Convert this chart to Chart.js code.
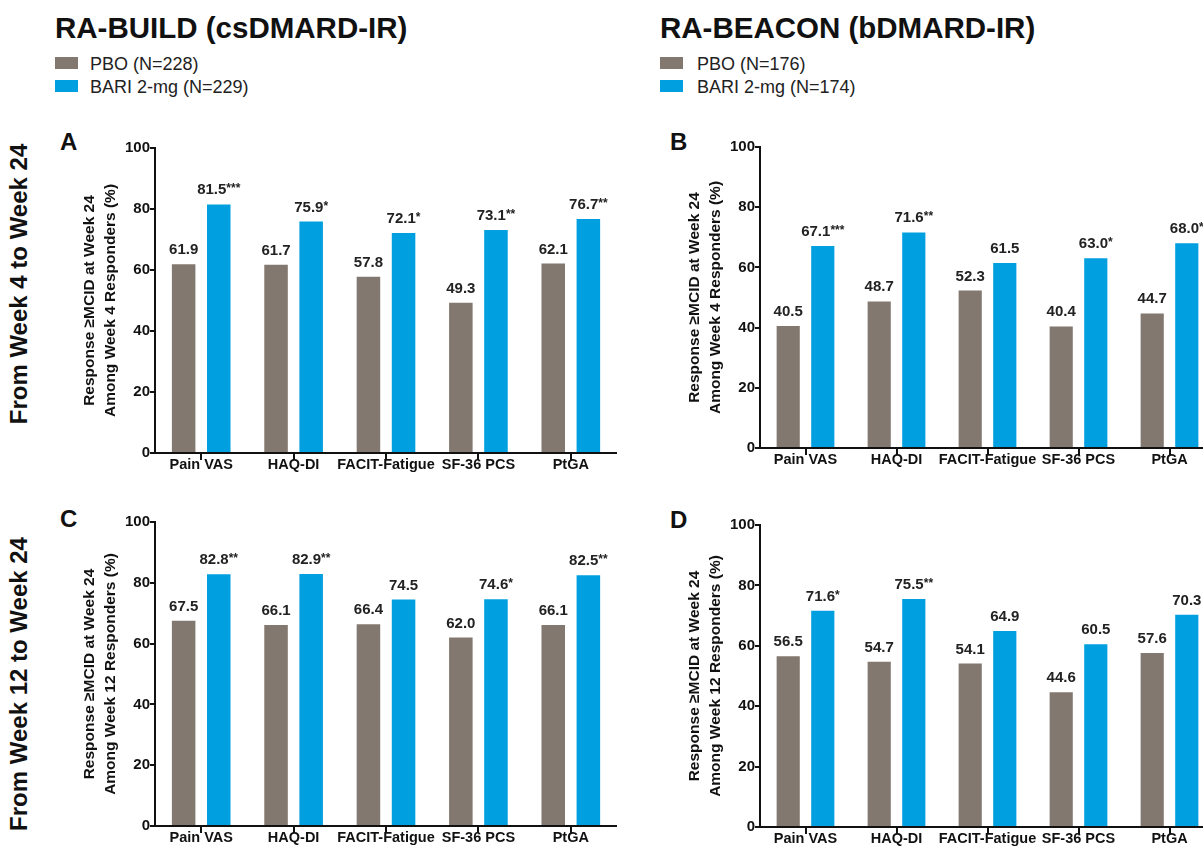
<!DOCTYPE html>
<html>
<head>
<meta charset="utf-8">
<script src="https://cdn.jsdelivr.net/npm/chart.js@4"></script>
<style>
html, body { margin:0; padding:0; width:1203px; height:849px; overflow:hidden; background:#fff; }
body { position:relative; font-family:"Liberation Sans", Arial, sans-serif; color:#111; }
.t { position:absolute; white-space:nowrap; line-height:1; }
.b { font-weight:bold; }
.sq { position:absolute; width:23px; height:12px; }
.row { position:absolute; white-space:nowrap; line-height:1; font-weight:bold; font-size:24px;
       transform:translate(-50%,-50%) rotate(-90deg); }
canvas { position:absolute; }
</style>
</head>
<body>

<div class="t b" style="left:55px;top:13px;font-size:29.5px">RA-BUILD (csDMARD-IR)</div>
<div class="sq" style="left:55px;top:57px;background:#82786f"></div>
<div class="sq" style="left:55px;top:80px;background:#009fdf"></div>
<div class="t" style="left:90px;top:55px;font-size:18px;color:#222">PBO (N=228)</div>
<div class="t" style="left:90px;top:78px;font-size:18px;color:#222">BARI 2-mg (N=229)</div>

<div class="t b" style="left:660px;top:13px;font-size:29.5px">RA-BEACON (bDMARD-IR)</div>
<div class="sq" style="left:660px;top:57px;background:#82786f"></div>
<div class="sq" style="left:660px;top:80px;background:#009fdf"></div>
<div class="t" style="left:697px;top:55px;font-size:18px;color:#222">PBO (N=176)</div>
<div class="t" style="left:697px;top:78px;font-size:18px;color:#222">BARI 2-mg (N=174)</div>

<div class="row" style="left:19px;top:284px">From Week 4 to Week 24</div>
<div class="row" style="left:19px;top:684px">From Week 12 to Week 24</div>

<div class="t b" style="left:60px;top:130px;font-size:24px">A</div>
<div class="t b" style="left:670px;top:130px;font-size:24px">B</div>
<div class="t b" style="left:60px;top:507px;font-size:24px">C</div>
<div class="t b" style="left:670px;top:508px;font-size:24px">D</div>

<canvas id="chartA" width="542" height="355" style="left:75px;top:128px"></canvas>
<canvas id="chartB" width="535" height="351" style="left:680px;top:127px"></canvas>
<canvas id="chartC" width="542" height="354" style="left:75px;top:502px"></canvas>
<canvas id="chartD" width="535" height="352" style="left:680px;top:505px"></canvas>

<script>
var categories = ['Pain VAS', 'HAQ-DI', 'FACIT-Fatigue', 'SF-36 PCS', 'PtGA'];
var seriesNames = ['PBO', 'BARI 2-mg'];
var yMin = 0, yMax = 100, yStep = 20;

// A: RA-BUILD, week 4 -> week 24
var pboA = [61.9, 61.7, 57.8, 49.3, 62.1];
var bariA = [81.5, 75.9, 72.1, 73.1, 76.7];
var starsA = ['***', '*', '*', '**', '**'];

// B: RA-BEACON, week 4 -> week 24
var pboB = [40.5, 48.7, 52.3, 40.4, 44.7];
var bariB = [67.1, 71.6, 61.5, 63.0, 68.0];
var starsB = ['***', '**', '', '*', '*'];

// C: RA-BUILD, week 12 -> week 24
var pboC = [67.5, 66.1, 66.4, 62.0, 66.1];
var bariC = [82.8, 82.9, 74.5, 74.6, 82.5];
var starsC = ['**', '**', '', '*', '**'];

// D: RA-BEACON, week 12 -> week 24
var pboD = [56.5, 54.7, 54.1, 44.6, 57.6];
var bariD = [71.6, 75.5, 64.9, 60.5, 70.3];
var starsD = ['*', '**', '', '', ''];

var FONT = '"Liberation Sans", Arial, sans-serif';
Chart.defaults.font.family = FONT;
var grey = '#82786f';
var blue = '#009fdf';
var ink = '#111';

// value labels above the bars, asterisks a bit smaller and raised
var barLabels = {
  id: 'barLabels',
  afterDatasetsDraw(chart) {
    var ctx = chart.ctx;
    chart.data.datasets.forEach(function(ds, di) {
      var meta = chart.getDatasetMeta(di);
      meta.data.forEach(function(bar, i) {
        var num = ds.data[i].toFixed(1);
        var st = ds.stars ? ds.stars[i] : '';
        ctx.save();
        ctx.font = 'bold 15px ' + FONT;
        var w1 = ctx.measureText(num).width;
        ctx.font = 'bold 12px ' + FONT;
        var w2 = st ? ctx.measureText(st).width : 0;
        var x0 = bar.x - (w1 + w2) / 2;
        var y = bar.y - 10;
        ctx.fillStyle = '#222';
        ctx.textAlign = 'left';
        ctx.textBaseline = 'alphabetic';
        ctx.font = 'bold 15px ' + FONT;
        ctx.fillText(num, x0, y);
        if (st) {
          ctx.font = 'bold 12px ' + FONT;
          ctx.fillText(st, x0 + w1, y - 2);
        }
        ctx.restore();
      });
    });
  }
};

function makeChart(id, pbo, bari, stars, week) {
  var ctx = document.getElementById(id).getContext('2d');
  return new Chart(ctx, {
    type: 'bar',
    data: {
      labels: categories,
      datasets: [{
        label: seriesNames[0],
        data: pbo,
        backgroundColor: grey,
        borderWidth: 0,
        categoryPercentage: 0.76,
        barPercentage: 0.67
      }, {
        label: seriesNames[1],
        data: bari,
        stars: stars,
        backgroundColor: blue,
        borderWidth: 0,
        categoryPercentage: 0.76,
        barPercentage: 0.67
      }]
    },
    options: {
      responsive: false,
      animation: false,
      layout: { padding: { top: 20, left: 0, right: 0, bottom: 0 } },
      plugins: { legend: { display: false }, tooltip: { enabled: false } },
      scales: {
        x: {
          z: 1,
          grid: { display: true, drawOnChartArea: false, offset: false, tickLength: 7, color: ink, lineWidth: 2 },
          border: { display: true, color: ink, width: 2 },
          ticks: { color: ink, font: { size: 14.5, weight: 'bold' }, padding: -4, maxRotation: 0, autoSkip: false },
          afterFit: function(s) { s.height = 30; }
        },
        y: {
          min: yMin, max: yMax,
          grid: { drawOnChartArea: false, tickLength: 5, color: ink, lineWidth: 2 },
          border: { display: true, color: ink, width: 2 },
          ticks: { stepSize: yStep, color: ink, font: { size: 15, weight: 'bold' }, padding: 0 },
          title: {
            display: true,
            text: ['Response \u2265MCID at Week 24', 'Among Week ' + week + ' Responders (%)'],
            color: ink,
            font: { size: 15.5, weight: 'bold', lineHeight: 1.35 },
            padding: { top: 4, bottom: 0 }
          },
          afterFit: function(s) { s.width = 80; }
        }
      }
    },
    plugins: [barLabels]
  });
}

makeChart('chartA', pboA, bariA, starsA, 4);
makeChart('chartB', pboB, bariB, starsB, 4);
makeChart('chartC', pboC, bariC, starsC, 12);
makeChart('chartD', pboD, bariD, starsD, 12);
</script>
</body>
</html>
